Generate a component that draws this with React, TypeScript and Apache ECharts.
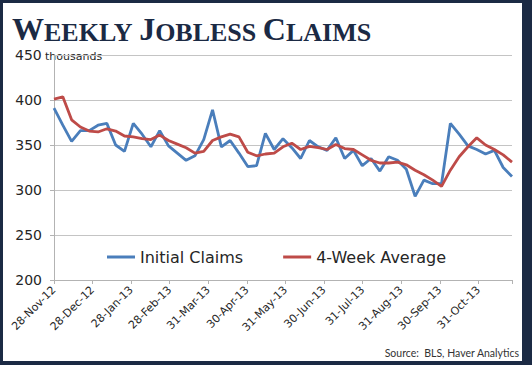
import React, { useEffect, useRef } from "react";
import * as echarts from "echarts";

// Month tick labels (one every ~4.38 weeks)
const monthLabels = [
  "28-Nov-12", "28-Dec-12", "28-Jan-13", "28-Feb-13", "31-Mar-13", "30-Apr-13",
  "31-May-13", "30-Jun-13", "31-Jul-13", "31-Aug-13", "30-Sep-13", "31-Oct-13",
];
const weeksPerMonthTick = 4.38;

// Weekly values, thousands (week index 0..52)
const initialClaims = [
  391, 372, 354, 366, 366, 372, 374, 350, 343, 374, 362, 348, 366, 349, 341, 333,
  338, 356, 389, 348, 355, 341, 326, 327, 363, 345, 357, 347, 335, 355, 348, 344,
  358, 335, 344, 327, 335, 321, 337, 333, 323, 293, 311, 307, 307, 374, 362, 349,
  345, 340, 344, 325, 315,
];
const fourWeekAverage = [
  401, 403.5, 378, 370, 365.5, 364.5, 368, 365.5, 360, 359, 357, 356, 361, 355, 351, 347,
  341, 343, 355, 359, 362, 359, 342, 338, 340, 341, 348, 352, 345, 348.5, 347, 345,
  350.5, 346, 345, 339, 333, 330, 330, 331, 328, 322, 317, 311, 304, 322, 337, 348,
  358, 350, 345, 339, 331,
];
const seriesNames = ["Initial Claims", "4-Week Average"];

const NAVY = "#1b2a44";

export default function App() {
  const ref = useRef<HTMLDivElement>(null);
  useEffect(() => {
    if (!ref.current) return;
    const chart = echarts.init(ref.current, undefined, { renderer: "svg" });
    chart.setOption({
      animation: false,
      backgroundColor: "#ffffff",
      grid: { left: 54, right: 20, top: 55, bottom: 85 },
      legend: {
        left: 107,
        top: 249,
        padding: 0,
        icon: "rect",
        itemWidth: 28,
        itemHeight: 3,
        itemGap: 40,
        data: seriesNames,
        textStyle: { fontFamily: "DejaVu Sans", fontSize: 16, color: "#262626" },
      },
      xAxis: {
        type: "value",
        min: 0,
        max: 52,
        interval: weeksPerMonthTick,
        splitLine: { show: false },
        axisLine: { show: true, lineStyle: { color: "#b3b3b3", width: 1 } },
        axisTick: { show: true, length: 4, lineStyle: { color: "#b3b3b3" } },
        axisLabel: {
          rotate: 45,
          margin: 8,
          fontFamily: "DejaVu Sans",
          fontSize: 11,
          color: "#262626",
          hideOverlap: false,
          formatter: (v: number) => {
            const idx = Math.round(v / weeksPerMonthTick);
            if (Math.abs(idx * weeksPerMonthTick - v) > 0.01) return "";
            return monthLabels[idx] ?? "";
          },
        },
      },
      yAxis: {
        type: "value",
        min: 200,
        max: 450,
        interval: 50,
        axisLine: { show: true, lineStyle: { color: "#b3b3b3", width: 1 } },
        axisTick: { show: true, length: 4, lineStyle: { color: "#b3b3b3" } },
        splitLine: { show: true, lineStyle: { color: "#c4c4c4", width: 1.2 } },
        axisLabel: {
          showMaxLabel: false,
          margin: 12,
          fontFamily: "DejaVu Sans",
          fontSize: 14,
          color: "#262626",
        },
      },
      series: [
        {
          name: seriesNames[0],
          type: "line",
          symbol: "none",
          data: initialClaims.map((v, i) => [i, v]),
          lineStyle: { color: "#4a7ebb", width: 2.8 },
          itemStyle: { color: "#4a7ebb" },
        },
        {
          name: seriesNames[1],
          type: "line",
          symbol: "none",
          data: fourWeekAverage.map((v, i) => [i, v]),
          lineStyle: { color: "#be4b48", width: 2.8 },
          itemStyle: { color: "#be4b48" },
        },
      ],
      graphic: [
        { type: "rect", shape: { x: 0, y: 0, width: 532, height: 3 }, style: { fill: NAVY }, silent: true },
        { type: "rect", shape: { x: 0, y: 0, width: 3, height: 365 }, style: { fill: NAVY }, silent: true },
        { type: "rect", shape: { x: 0, y: 361, width: 532, height: 4 }, style: { fill: NAVY }, silent: true },
        { type: "rect", shape: { x: 522, y: 0, width: 10, height: 365 }, style: { fill: NAVY }, silent: true },
        {
          type: "text",
          x: 12,
          y: 45,
          style: {
            text: "{b|W}{s|EEKLY }{b|J}{s|OBLESS }{b|C}{s|LAIMS}",
            verticalAlign: "bottom",
            rich: {
              b: { fontFamily: "Liberation Serif", fontWeight: "bold", fontSize: 32, fill: NAVY, verticalAlign: "bottom", lineHeight: 34 },
              s: { fontFamily: "Liberation Serif", fontWeight: "bold", fontSize: 26, fill: NAVY, verticalAlign: "bottom", lineHeight: 34 },
            },
          },
        },
        {
          type: "text",
          x: 15,
          y: 55,
          style: {
            text: "450",
            verticalAlign: "middle",
            fontFamily: "DejaVu Sans",
            fontSize: 14,
            fill: "#262626",
          },
        },
        {
          type: "text",
          x: 45,
          y: 56.2,
          style: {
            text: "thousands",
            verticalAlign: "middle",
            fontFamily: "DejaVu Sans",
            fontSize: 11,
            fill: "#262626",
          },
        },
        {
          type: "text",
          x: 519,
          y: 353,
          style: {
            text: "Source:  BLS, Haver Analytics",
            align: "right",
            verticalAlign: "middle",
            fontFamily: "Lato",
            fontSize: 10.5,
            fill: "#333333",
          },
        },
      ],
    });
    return () => chart.dispose();
  }, []);
  return (
    <div style={{ position: "fixed", left: 0, top: 0, width: 532, height: 365 }}>
      <div ref={ref} style={{ width: 532, height: 365 }} />
    </div>
  );
}
